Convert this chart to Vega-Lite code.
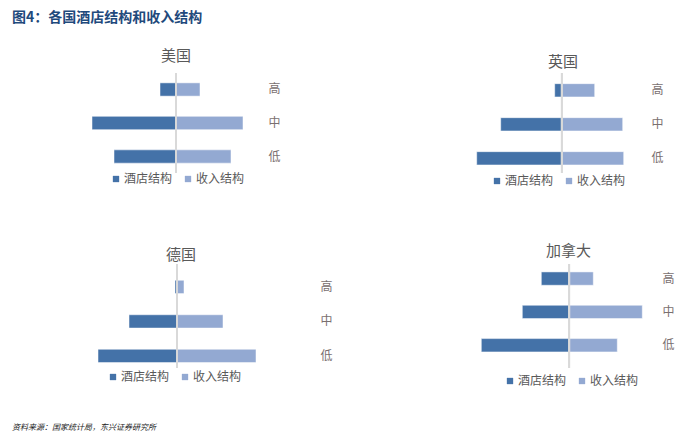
{
  "$schema": "https://vega.github.io/schema/vega-lite/v6.json",
  "padding": {"left": 12, "top": 11, "right": 5, "bottom": 5},
  "background": "white",
  "datasets": {
    "pyramid": [
      {"country": "美国", "level": "高", "series": "酒店结构", "value": 16},
      {"country": "美国", "level": "中", "series": "酒店结构", "value": 84},
      {"country": "美国", "level": "低", "series": "酒店结构", "value": 62},
      {"country": "美国", "level": "高", "series": "收入结构", "value": 24},
      {"country": "美国", "level": "中", "series": "收入结构", "value": 67},
      {"country": "美国", "level": "低", "series": "收入结构", "value": 55},
      {"country": "英国", "level": "高", "series": "酒店结构", "value": 7},
      {"country": "英国", "level": "中", "series": "酒店结构", "value": 61},
      {"country": "英国", "level": "低", "series": "酒店结构", "value": 85},
      {"country": "英国", "level": "高", "series": "收入结构", "value": 33},
      {"country": "英国", "level": "中", "series": "收入结构", "value": 61},
      {"country": "英国", "level": "低", "series": "收入结构", "value": 62},
      {"country": "德国", "level": "高", "series": "酒店结构", "value": 2},
      {"country": "德国", "level": "中", "series": "酒店结构", "value": 48},
      {"country": "德国", "level": "低", "series": "酒店结构", "value": 79},
      {"country": "德国", "level": "高", "series": "收入结构", "value": 7},
      {"country": "德国", "level": "中", "series": "收入结构", "value": 46},
      {"country": "德国", "level": "低", "series": "收入结构", "value": 79},
      {"country": "加拿大", "level": "高", "series": "酒店结构", "value": 28},
      {"country": "加拿大", "level": "中", "series": "酒店结构", "value": 47},
      {"country": "加拿大", "level": "低", "series": "酒店结构", "value": 88},
      {"country": "加拿大", "level": "高", "series": "收入结构", "value": 24},
      {"country": "加拿大", "level": "中", "series": "收入结构", "value": 73},
      {"country": "加拿大", "level": "低", "series": "收入结构", "value": 48}
    ]
  },
  "data": {"name": "pyramid"},
  "title": {"text": "图4：各国酒店结构和收入结构", "anchor": "start", "frame": "group", "fontSize": 14, "fontWeight": "bold", "color": "#1f4a7c", "font": "Noto Sans CJK SC", "offset": 24},
  "spacing": 57,
  "resolve": {"scale": {"color": "independent"}, "legend": {"color": "independent"}},
  "vconcat": [
    {
      "hconcat": [
        {
          "width": 252, "height": 100,
          "title": {"text": "美国", "anchor": "middle", "frame": "group", "dx": 38, "offset": 8},
          "transform": [{"filter": "datum.country === '美国'"}],
          "layer": [
            {"transform": [{"filter": "datum.series === '酒店结构'"}], "mark": {"type": "bar", "stroke": "white", "strokeWidth": 0.5},
             "encoding": {
               "x": {"field": "value", "type": "quantitative", "scale": {"domain": [-88, 164], "reverse": true}, "axis": null},
               "y": {"field": "level", "type": "nominal", "sort": ["高", "中", "低"], "scale": {"paddingInner": 0.603, "paddingOuter": 0.294, "align": 0.5}, "axis": {"orient": "right", "domain": false, "ticks": false, "labelPadding": 4, "title": null}},
               "color": {"field": "series", "type": "nominal", "scale": {"domain": ["酒店结构", "收入结构"], "range": ["#4472a8", "#93a9d2"]}, "legend": {"orient": "none", "legendX": 98, "legendY": 100, "direction": "horizontal", "title": null}}
             }},
            {"transform": [{"filter": "datum.series === '收入结构'"}], "mark": {"type": "bar", "stroke": "white", "strokeWidth": 0.5},
             "encoding": {
               "x": {"field": "value", "type": "quantitative", "scale": {"domain": [-164, 88]}, "axis": null},
               "y": {"field": "level", "type": "nominal", "sort": ["高", "中", "低"], "scale": {"paddingInner": 0.603, "paddingOuter": 0.294, "align": 0.5}, "axis": {"orient": "right", "domain": false, "ticks": false, "labelPadding": 4, "title": null}},
               "color": {"field": "series", "type": "nominal", "scale": {"domain": ["酒店结构", "收入结构"], "range": ["#4472a8", "#93a9d2"]}, "legend": {"orient": "none", "legendX": 98, "legendY": 100, "direction": "horizontal", "title": null}}
             }},
            {"mark": {"type": "rule", "color": "#d9d9d9", "strokeWidth": 1.5},
             "encoding": {"x": {"datum": 0, "type": "quantitative", "scale": {"domain": [-164, 88]}, "axis": null}}}
          ],
          "resolve": {"scale": {"x": "independent"}}
        },
        {
          "width": 346, "height": 100,
          "title": {"text": "英国", "anchor": "middle", "frame": "group", "dx": 89, "offset": 2},
          "transform": [{"filter": "datum.country === '英国'"}],
          "layer": [
            {"transform": [{"filter": "datum.series === '酒店结构'"}], "mark": {"type": "bar", "stroke": "white", "strokeWidth": 0.5},
             "encoding": {
               "x": {"field": "value", "type": "quantitative", "scale": {"domain": [-85.3, 260.7], "reverse": true}, "axis": null},
               "y": {"field": "level", "type": "nominal", "sort": ["高", "中", "低"], "scale": {"paddingInner": 0.609, "paddingOuter": 0.275, "align": 0.57}, "axis": {"orient": "right", "domain": false, "ticks": false, "labelPadding": 4, "title": null}},
               "color": {"field": "series", "type": "nominal", "scale": {"domain": ["酒店结构", "收入结构"], "range": ["#4472a8", "#93a9d2"]}, "legend": {"orient": "none", "legendX": 190, "legendY": 102, "direction": "horizontal", "title": null}}
             }},
            {"transform": [{"filter": "datum.series === '收入结构'"}], "mark": {"type": "bar", "stroke": "white", "strokeWidth": 0.5},
             "encoding": {
               "x": {"field": "value", "type": "quantitative", "scale": {"domain": [-260.7, 85.3]}, "axis": null},
               "y": {"field": "level", "type": "nominal", "sort": ["高", "中", "低"], "scale": {"paddingInner": 0.609, "paddingOuter": 0.275, "align": 0.57}, "axis": {"orient": "right", "domain": false, "ticks": false, "labelPadding": 4, "title": null}},
               "color": {"field": "series", "type": "nominal", "scale": {"domain": ["酒店结构", "收入结构"], "range": ["#4472a8", "#93a9d2"]}, "legend": {"orient": "none", "legendX": 190, "legendY": 102, "direction": "horizontal", "title": null}}
             }},
            {"mark": {"type": "rule", "color": "#d9d9d9", "strokeWidth": 1.5},
             "encoding": {"x": {"datum": 0, "type": "quantitative", "scale": {"domain": [-260.7, 85.3]}, "axis": null}}}
          ],
          "resolve": {"scale": {"x": "independent"}}
        }
      ],
      "spacing": 20,
      "resolve": {"scale": {"color": "independent"}, "legend": {"color": "independent"}}
    },
    {
      "hconcat": [
        {
          "width": 304, "height": 104,
          "title": {"text": "德国", "anchor": "middle", "frame": "group", "dx": 17, "offset": 0},
          "transform": [{"filter": "datum.country === '德国'"}],
          "layer": [
            {"transform": [{"filter": "datum.series === '酒店结构'"}], "mark": {"type": "bar", "stroke": "white", "strokeWidth": 0.5},
             "encoding": {
               "x": {"field": "value", "type": "quantitative", "scale": {"domain": [-139, 165], "reverse": true}, "axis": null},
               "y": {"field": "level", "type": "nominal", "sort": ["高", "中", "低"], "scale": {"paddingInner": 0.614, "paddingOuter": 0.314, "align": 0.75}, "axis": {"orient": "right", "domain": false, "ticks": false, "labelPadding": 4, "title": null}},
               "color": {"field": "series", "type": "nominal", "scale": {"domain": ["酒店结构", "收入结构"], "range": ["#4472a8", "#93a9d2"]}, "legend": {"orient": "none", "legendX": 95, "legendY": 107, "direction": "horizontal", "title": null}}
             }},
            {"transform": [{"filter": "datum.series === '收入结构'"}], "mark": {"type": "bar", "stroke": "white", "strokeWidth": 0.5},
             "encoding": {
               "x": {"field": "value", "type": "quantitative", "scale": {"domain": [-165, 139]}, "axis": null},
               "y": {"field": "level", "type": "nominal", "sort": ["高", "中", "低"], "scale": {"paddingInner": 0.614, "paddingOuter": 0.314, "align": 0.75}, "axis": {"orient": "right", "domain": false, "ticks": false, "labelPadding": 4, "title": null}},
               "color": {"field": "series", "type": "nominal", "scale": {"domain": ["酒店结构", "收入结构"], "range": ["#4472a8", "#93a9d2"]}, "legend": {"orient": "none", "legendX": 95, "legendY": 107, "direction": "horizontal", "title": null}}
             }},
            {"mark": {"type": "rule", "color": "#d9d9d9", "strokeWidth": 1.5},
             "encoding": {"x": {"datum": 0, "type": "quantitative", "scale": {"domain": [-165, 139]}, "axis": null}}}
          ],
          "resolve": {"scale": {"x": "independent"}}
        },
        {
          "width": 307, "height": 104,
          "title": {"text": "加拿大", "anchor": "middle", "frame": "group", "dx": 64, "offset": 4},
          "transform": [{"filter": "datum.country === '加拿大'"}],
          "layer": [
            {"transform": [{"filter": "datum.series === '酒店结构'"}], "mark": {"type": "bar", "stroke": "white", "strokeWidth": 0.5},
             "encoding": {
               "x": {"field": "value", "type": "quantitative", "scale": {"domain": [-88.7, 218.3], "reverse": true}, "axis": null},
               "y": {"field": "level", "type": "nominal", "sort": ["高", "中", "低"], "scale": {"paddingInner": 0.6, "paddingOuter": 0.36, "align": 0.33}, "axis": {"orient": "right", "domain": false, "ticks": false, "labelPadding": 4, "title": null}},
               "color": {"field": "series", "type": "nominal", "scale": {"domain": ["酒店结构", "收入结构"], "range": ["#4472a8", "#93a9d2"]}, "legend": {"orient": "none", "legendX": 153, "legendY": 111, "direction": "horizontal", "title": null}}
             }},
            {"transform": [{"filter": "datum.series === '收入结构'"}], "mark": {"type": "bar", "stroke": "white", "strokeWidth": 0.5},
             "encoding": {
               "x": {"field": "value", "type": "quantitative", "scale": {"domain": [-218.3, 88.7]}, "axis": null},
               "y": {"field": "level", "type": "nominal", "sort": ["高", "中", "低"], "scale": {"paddingInner": 0.6, "paddingOuter": 0.36, "align": 0.33}, "axis": {"orient": "right", "domain": false, "ticks": false, "labelPadding": 4, "title": null}},
               "color": {"field": "series", "type": "nominal", "scale": {"domain": ["酒店结构", "收入结构"], "range": ["#4472a8", "#93a9d2"]}, "legend": {"orient": "none", "legendX": 153, "legendY": 111, "direction": "horizontal", "title": null}}
             }},
            {"mark": {"type": "rule", "color": "#d9d9d9", "strokeWidth": 1.5},
             "encoding": {"x": {"datum": 0, "type": "quantitative", "scale": {"domain": [-218.3, 88.7]}, "axis": null}}}
          ],
          "resolve": {"scale": {"x": "independent"}}
        }
      ],
      "spacing": 18,
      "resolve": {"scale": {"color": "independent"}, "legend": {"color": "independent"}},
      "title": {"text": "资料来源：国家统计局，东兴证券研究所", "orient": "bottom", "anchor": "start", "frame": "group", "fontSize": 8, "fontStyle": "italic", "fontWeight": "normal", "color": "#222222", "offset": 37}
    }
  ],
  "config": {
    "view": {"stroke": null},
    "font": "Noto Sans CJK SC",
    "title": {"font": "Noto Sans CJK SC", "fontSize": 15, "fontWeight": "normal", "color": "#595959"},
    "axis": {"labelFont": "Noto Sans CJK SC", "labelFontSize": 12, "labelColor": "#7a7070"},
    "legend": {"labelFont": "Noto Sans CJK SC", "labelFontSize": 12, "labelColor": "#595959", "symbolType": "square", "symbolSize": 40, "symbolStrokeWidth": 0, "columnPadding": 9, "labelOffset": 2, "padding": 0}
  }
}
